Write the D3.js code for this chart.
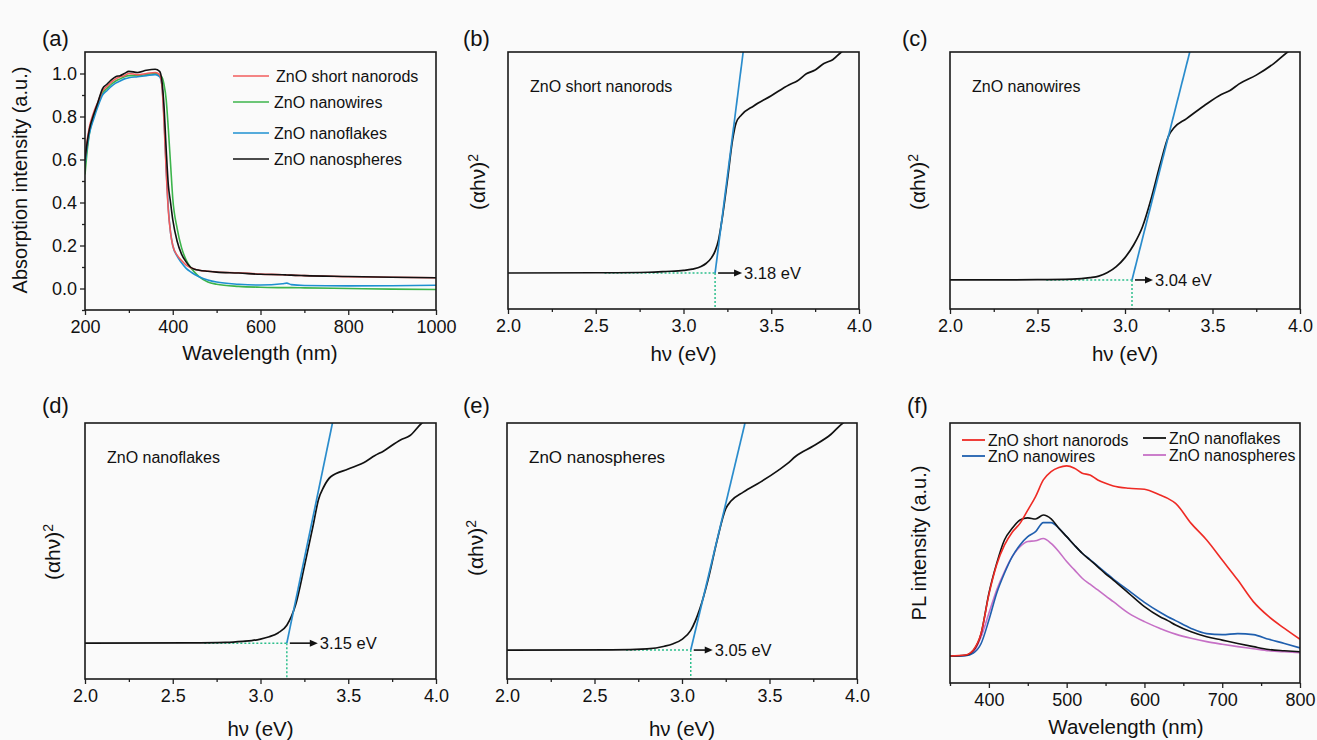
<!DOCTYPE html>
<html>
<head>
<meta charset="utf-8">
<script src="https://cdn.jsdelivr.net/npm/d3@7"></script>
<style>
  body { margin: 0; background: #fafafa; }
  svg { display: block; font-family: "Liberation Sans", Arial, sans-serif; }
  .tick text { font-size: 18px; fill: #111; }
  .domain { display: none; }
  .tick line { stroke: #222; stroke-width: 1.3; }
</style>
</head>
<body>
<svg id="chart" width="1317" height="740"></svg>
<script>
// ---- (a) absorption spectra ----
var absWl = [200, 205, 210, 220, 230, 240, 250, 260, 270, 280, 290, 300, 320, 340, 360, 370, 375, 380, 385, 390, 395, 400, 410, 420, 430, 440, 450, 460, 480, 500, 550, 600, 650, 660, 670, 700, 800, 900, 1000];
var absNanorods = [0.61, 0.69, 0.75, 0.82, 0.87, 0.92, 0.94, 0.96, 0.975, 0.985, 0.99, 1.0, 0.995, 1.0, 1.005, 0.995, 0.95, 0.78, 0.55, 0.36, 0.26, 0.2, 0.155, 0.13, 0.11, 0.098, 0.09, 0.085, 0.08, 0.077, 0.073, 0.067, 0.064, 0.063, 0.062, 0.06, 0.055, 0.052, 0.05];
var absNanowires = [0.53, 0.64, 0.72, 0.8, 0.86, 0.91, 0.93, 0.95, 0.965, 0.975, 0.985, 0.99, 0.99, 0.995, 1.0, 0.99, 0.985, 0.95, 0.88, 0.74, 0.58, 0.42, 0.28, 0.19, 0.135, 0.1, 0.075, 0.055, 0.03, 0.02, 0.01, 0.006, 0.004, 0.004, 0.004, 0.003, 0.0, -0.003, -0.005];
var absNanoflakes = [0.58, 0.66, 0.72, 0.79, 0.85, 0.9, 0.92, 0.94, 0.955, 0.965, 0.975, 0.98, 0.985, 0.99, 0.995, 0.985, 0.95, 0.8, 0.56, 0.37, 0.26, 0.2, 0.15, 0.12, 0.095, 0.078, 0.065, 0.055, 0.04, 0.03, 0.02, 0.016, 0.022, 0.025, 0.018, 0.014, 0.012, 0.013, 0.015];
var absNanospheres = [0.6, 0.68, 0.74, 0.81, 0.87, 0.93, 0.95, 0.97, 0.985, 0.99, 1.0, 1.01, 1.005, 1.015, 1.02, 1.01, 0.97, 0.85, 0.65, 0.48, 0.4, 0.32, 0.22, 0.16, 0.125, 0.1, 0.09, 0.085, 0.08, 0.076, 0.072, 0.066, 0.064, 0.063, 0.062, 0.06, 0.056, 0.052, 0.05];
var absNames = ["ZnO short nanorods", "ZnO nanowires", "ZnO nanoflakes", "ZnO nanospheres"];

// ---- (b)-(e) Tauc plots ----
var taucNames = ["ZnO short nanorods", "ZnO nanowires", "ZnO nanoflakes", "ZnO nanospheres"];
var taucGaps = [3.18, 3.04, 3.15, 3.05];
var taucBase = [0.14, 0.113, 0.14, 0.113];
var taucTangentTop = [3.34, 3.37, 3.41, 3.36];
var taucDotStart = [2.55, 2.55, 2.68, 2.68];
var taucEnergyB = [2.0, 2.5, 2.8, 2.9, 3.0, 3.05, 3.1, 3.13, 3.16, 3.18, 3.2, 3.22, 3.25, 3.28, 3.3, 3.33, 3.4, 3.5, 3.6, 3.65, 3.7, 3.75, 3.8, 3.85, 3.9, 3.95];
var taucValueB = [0.14, 0.141, 0.143, 0.146, 0.15, 0.155, 0.165, 0.178, 0.2, 0.225, 0.27, 0.35, 0.5, 0.66, 0.725, 0.755, 0.79, 0.83, 0.872, 0.888, 0.915, 0.93, 0.955, 0.97, 1.0, 1.02];
var taucEnergyC = [2.0, 2.5, 2.7, 2.8, 2.85, 2.9, 2.95, 3.0, 3.05, 3.1, 3.15, 3.2, 3.25, 3.28, 3.35, 3.45, 3.55, 3.6, 3.65, 3.75, 3.85, 3.93, 3.98];
var taucValueC = [0.113, 0.114, 0.116, 0.122, 0.128, 0.142, 0.165, 0.2, 0.25, 0.32, 0.43, 0.56, 0.675, 0.705, 0.74, 0.79, 0.835, 0.85, 0.875, 0.91, 0.955, 1.0, 1.02];
var taucEnergyD = [2.0, 2.6, 2.8, 2.9, 2.95, 3.0, 3.05, 3.1, 3.15, 3.2, 3.25, 3.3, 3.33, 3.36, 3.4, 3.5, 3.6, 3.65, 3.7, 3.8, 3.85, 3.92, 3.97];
var taucValueD = [0.14, 0.141, 0.143, 0.147, 0.15, 0.156, 0.165, 0.18, 0.21, 0.29, 0.44, 0.6, 0.7, 0.75, 0.79, 0.82, 0.85, 0.872, 0.89, 0.935, 0.95, 1.0, 1.02];
var taucEnergyE = [2.0, 2.6, 2.8, 2.9, 2.95, 3.0, 3.05, 3.1, 3.15, 3.2, 3.25, 3.28, 3.35, 3.45, 3.55, 3.6, 3.65, 3.75, 3.85, 3.92, 3.97];
var taucValueE = [0.113, 0.114, 0.118, 0.128, 0.138, 0.155, 0.19, 0.27, 0.39, 0.54, 0.665, 0.695, 0.73, 0.77, 0.815, 0.84, 0.87, 0.91, 0.955, 1.0, 1.02];

// ---- (f) PL spectra ----
var plWl = [350, 370, 380, 390, 400, 410, 420, 430, 440, 450, 460, 470, 480, 490, 500, 510, 520, 530, 540, 550, 560, 580, 600, 620, 630, 640, 660, 680, 700, 720, 740, 760, 780, 800];
var plNanorods = [0.104, 0.108, 0.127, 0.191, 0.34, 0.455, 0.53, 0.58, 0.614, 0.665, 0.717, 0.781, 0.813, 0.829, 0.835, 0.826, 0.807, 0.8, 0.781, 0.768, 0.758, 0.749, 0.745, 0.723, 0.71, 0.691, 0.614, 0.55, 0.473, 0.396, 0.313, 0.255, 0.21, 0.168];
var plNanowires = [0.104, 0.105, 0.115, 0.152, 0.242, 0.345, 0.422, 0.486, 0.531, 0.563, 0.582, 0.617, 0.617, 0.595, 0.563, 0.53, 0.499, 0.475, 0.45, 0.425, 0.4, 0.355, 0.31, 0.272, 0.255, 0.24, 0.21, 0.19, 0.186, 0.19, 0.186, 0.168, 0.152, 0.135];
var plNanoflakes = [0.104, 0.107, 0.125, 0.19, 0.345, 0.46, 0.55, 0.595, 0.627, 0.635, 0.631, 0.646, 0.631, 0.595, 0.563, 0.53, 0.499, 0.473, 0.447, 0.42, 0.396, 0.345, 0.294, 0.255, 0.24, 0.223, 0.197, 0.178, 0.165, 0.152, 0.14, 0.129, 0.124, 0.12];
var plNanospheres = [0.104, 0.106, 0.118, 0.178, 0.268, 0.358, 0.428, 0.486, 0.524, 0.544, 0.547, 0.556, 0.537, 0.505, 0.467, 0.435, 0.403, 0.38, 0.358, 0.335, 0.313, 0.268, 0.236, 0.21, 0.198, 0.188, 0.172, 0.159, 0.149, 0.14, 0.132, 0.124, 0.12, 0.117];
var plNames = ["ZnO short nanorods", "ZnO nanowires", "ZnO nanoflakes", "ZnO nanospheres"];

var absColors = ["#f25c5c", "#3cb44b", "#1e90d0", "#111111"];
var plColors = ["#ee2a24", "#1f5fae", "#111111", "#c670c6"];

var svg = d3.select("#chart");

function panel(id, box) {
  var g = svg.append("g").attr("transform", "translate(" + box.x + "," + box.y + ")");
  svg.append("clipPath").attr("id", "clip-" + id)
    .append("rect").attr("width", box.w).attr("height", box.h);
  return g;
}

function bottomAxis(g, x, h, major, minor, fmt) {
  g.append("g").attr("transform", "translate(0," + h + ")")
    .call(d3.axisBottom(x).tickValues(minor).tickSize(3).tickFormat(""));
  g.append("g").attr("transform", "translate(0," + h + ")")
    .call(d3.axisBottom(x).tickValues(major).tickSize(5).tickPadding(5).tickFormat(fmt));
}

function frame(g, box) {
  g.append("rect").attr("width", box.w).attr("height", box.h)
    .attr("fill", "none").attr("stroke", "#1a1a1a").attr("stroke-width", 1.6);
}

function label(txt, x, y) {
  svg.append("text").attr("x", x).attr("y", y).attr("font-size", 22).attr("fill", "#111").text(txt);
}

function yTitle(x, y, fn) {
  var t = svg.append("text").attr("transform", "translate(" + x + "," + y + ") rotate(-90)")
    .attr("text-anchor", "middle").attr("font-size", 20).attr("fill", "#111");
  fn(t);
}

function xTitle(txt, x, y) {
  svg.append("text").attr("x", x).attr("y", y).attr("text-anchor", "middle")
    .attr("font-size", 20.5).attr("fill", "#111").text(txt);
}

// ---------- panel (a) ----------
(function () {
  var box = { x: 85, y: 52, w: 351, h: 258 };
  var g = panel("a", box);
  var x = d3.scaleLinear().domain([200, 1000]).range([0, box.w]);
  var y = d3.scaleLinear().domain([-0.1, 1.1]).range([box.h, 0]);
  bottomAxis(g, x, box.h, [200, 400, 600, 800, 1000], [300, 500, 700, 900], d3.format("d"));
  g.append("g").call(d3.axisLeft(y).tickValues([-0.1, 0.1, 0.3, 0.5, 0.7, 0.9]).tickSize(3).tickFormat(""));
  g.append("g").call(d3.axisLeft(y).tickValues([0, 0.2, 0.4, 0.6, 0.8, 1.0]).tickSize(5).tickPadding(3).tickFormat(d3.format(".1f")));
  var series = [absNanorods, absNanowires, absNanoflakes, absNanospheres];
  var line = d3.line().x(function (d, i) { return x(absWl[i]); }).y(function (d) { return y(d); })
    .curve(d3.curveMonotoneX);
  var order = [1, 2, 0, 3];
  order.forEach(function (k) {
    g.append("path").attr("clip-path", "url(#clip-a)").attr("d", line(series[k]))
      .attr("fill", "none").attr("stroke", absColors[k]).attr("stroke-width", 1.6);
  });
  var ly = [24, 50, 81, 107];
  absNames.forEach(function (n, i) {
    g.append("line").attr("x1", 148).attr("x2", 184).attr("y1", ly[i]).attr("y2", ly[i])
      .attr("stroke", absColors[i]).attr("stroke-width", 1.6);
    g.append("text").attr("x", i === 0 ? 191 : 189).attr("y", ly[i]).attr("dy", "0.35em")
      .attr("font-size", 16).attr("fill", "#111").text(n);
  });
  frame(g, box);
  label("(a)", 42, 46);
  yTitle(27, 180, function (t) { t.text("Absorption intensity (a.u.)"); });
  xTitle("Wavelength (nm)", 260, 360);
})();

// ---------- panels (b)-(e) ----------
var taucBoxes = [
  { x: 508, y: 52, w: 351, h: 257, lx: 463, ly: 46, yt: 485, ytY: 182, xt: 361 },
  { x: 950, y: 52, w: 350, h: 257, lx: 902, ly: 46, yt: 925, ytY: 182, xt: 361 },
  { x: 85, y: 423, w: 351, h: 256, lx: 42, ly: 413, yt: 60, ytY: 552, xt: 736 },
  { x: 507, y: 423, w: 350, h: 256, lx: 463, ly: 413, yt: 483, ytY: 548, xt: 736 }
];
var taucEnergy = [taucEnergyB, taucEnergyC, taucEnergyD, taucEnergyE];
var taucValue = [taucValueB, taucValueC, taucValueD, taucValueE];
var panelTags = ["(b)", "(c)", "(d)", "(e)"];
var arrowLen = [27, 21, 31, 22];

taucBoxes.forEach(function (box, k) {
  var id = "t" + k;
  var g = panel(id, box);
  var x = d3.scaleLinear().domain([2.0, 4.0]).range([0, box.w]);
  var y = d3.scaleLinear().domain([0, 1]).range([box.h, 0]);
  bottomAxis(g, x, box.h, [2.0, 2.5, 3.0, 3.5, 4.0], [2.25, 2.75, 3.25, 3.75], d3.format(".1f"));

  var gx = x(taucGaps[k]), gy = y(taucBase[k]);
  // dotted guides
  g.append("line").attr("x1", x(taucDotStart[k])).attr("x2", gx).attr("y1", gy).attr("y2", gy)
    .attr("stroke", "#2dbf8c").attr("stroke-width", 1.5).attr("stroke-dasharray", "2,2");
  g.append("line").attr("x1", gx).attr("x2", gx).attr("y1", gy).attr("y2", box.h)
    .attr("stroke", "#2dbf8c").attr("stroke-width", 1.5).attr("stroke-dasharray", "2,2");

  var line = d3.line().x(function (d, i) { return x(taucEnergy[k][i]); }).y(function (d) { return y(d); })
    .curve(d3.curveMonotoneX);
  g.append("path").attr("clip-path", "url(#clip-" + id + ")").attr("d", line(taucValue[k]))
    .attr("fill", "none").attr("stroke", "#111").attr("stroke-width", 1.7);
  // tangent
  g.append("line").attr("clip-path", "url(#clip-" + id + ")")
    .attr("x1", gx).attr("y1", gy).attr("x2", x(taucTangentTop[k])).attr("y2", y(1.0))
    .attr("stroke", "#2a8ccc").attr("stroke-width", 1.7);
  // arrow
  var ax0 = gx + 3, ax1 = gx + arrowLen[k];
  g.append("line").attr("x1", ax0).attr("x2", ax1 - 6).attr("y1", gy).attr("y2", gy)
    .attr("stroke", "#111").attr("stroke-width", 1.6);
  g.append("path").attr("d", "M" + ax1 + "," + gy + "L" + (ax1 - 8) + "," + (gy - 3.5) + "L" + (ax1 - 8) + "," + (gy + 3.5) + "Z")
    .attr("fill", "#111");
  g.append("text").attr("x", ax1 + 2).attr("y", gy).attr("dy", "0.35em")
    .attr("font-size", 16.5).attr("fill", "#111").text(taucGaps[k].toFixed(2) + " eV");

  g.append("text").attr("x", 22).attr("y", 34).attr("dy", "0.35em")
    .attr("font-size", k === 3 ? 17 : 16).attr("fill", "#111").text(taucNames[k]);
  frame(g, box);
  label(panelTags[k], box.lx, box.ly);
  yTitle(box.yt, box.ytY, function (t) {
    t.attr("font-size", 21);
    t.append("tspan").text("(\u03b1h\u03bd)");
    t.append("tspan").attr("dy", "-0.5em").attr("font-size", 14).text("2");
  });
  xTitle("h\u03bd (eV)", box.x + box.w / 2, box.xt);
});

// ---------- panel (f) ----------
(function () {
  var box = { x: 950, y: 423, w: 350, h: 260 };
  var g = panel("f", box);
  var x = d3.scaleLinear().domain([350, 800]).range([0, box.w]);
  var y = d3.scaleLinear().domain([0, 1]).range([box.h, 0]);
  bottomAxis(g, x, box.h, [400, 500, 600, 700, 800], [350, 450, 550, 650, 750], d3.format("d"));
  var series = [plNanorods, plNanowires, plNanoflakes, plNanospheres];
  var line = d3.line().x(function (d, i) { return x(plWl[i]); }).y(function (d) { return y(d); })
    .curve(d3.curveMonotoneX);
  [3, 1, 2, 0].forEach(function (k) {
    g.append("path").attr("clip-path", "url(#clip-f)").attr("d", line(series[k]))
      .attr("fill", "none").attr("stroke", plColors[k]).attr("stroke-width", 1.6);
  });
  var leg = [
    { x: 12, y: 17 }, { x: 12, y: 33 }, { x: 193, y: 15 }, { x: 193, y: 32 }
  ];
  plNames.forEach(function (n, i) {
    g.append("line").attr("x1", leg[i].x).attr("x2", leg[i].x + 23).attr("y1", leg[i].y).attr("y2", leg[i].y)
      .attr("stroke", plColors[i]).attr("stroke-width", 1.8);
    g.append("text").attr("x", leg[i].x + 26).attr("y", leg[i].y).attr("dy", "0.35em")
      .attr("font-size", 15.8).attr("fill", "#111").text(n);
  });
  frame(g, box);
  label("(f)", 907, 413);
  yTitle(926, 543, function (t) { t.text("PL intensity (a.u.)"); });
  xTitle("Wavelength (nm)", 1126, 734);
})();
</script>
</body>
</html>
